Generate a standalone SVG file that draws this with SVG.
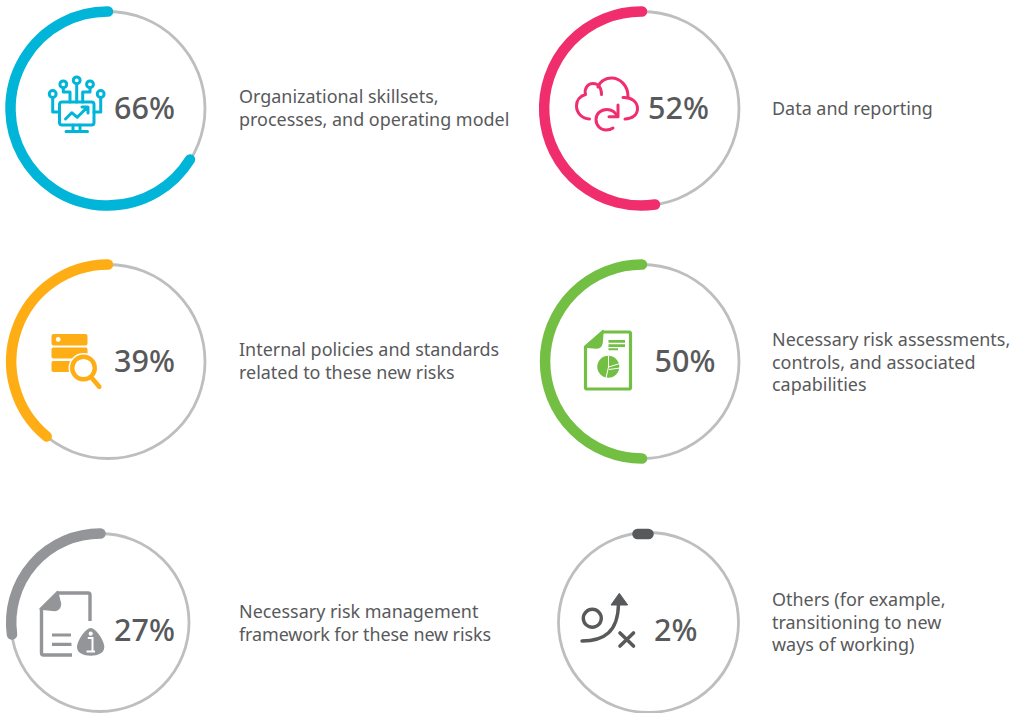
<svg xmlns="http://www.w3.org/2000/svg" width="1011" height="713" viewBox="0 0 1011 713">
<style>
.t{fill:none;stroke:#bcbec0;stroke-width:2.800}
.a{fill:none;stroke-width:10.500;stroke-linecap:round}
.p{font-family:"Noto Sans","Liberation Sans",sans-serif;font-size:30.500px;font-weight:500;fill:#58595b}
.l{font-family:"Noto Sans","Liberation Sans",sans-serif;font-size:17.950px;fill:#58595b}
.i{fill:none;stroke-width:3;stroke-linecap:round;stroke-linejoin:round}
</style>
<rect width="1011" height="713" fill="#fff"/>
<g id="skillsets">
<circle class="t" cx="108" cy="108.500" r="97"/>
<path class="a" stroke="#00b5d8" d="M108 11.500A97 97 0 1 0 190 159.500"/>
<g class="i" stroke="#00b5d8">
<rect x="59.500" y="102" width="34.500" height="23" rx="2.500"/>
<path d="M73 125V131M80 125V131M66 131.500H87.500"/>
<circle cx="52.700" cy="94" r="3.400"/><circle cx="63.300" cy="84.300" r="3.400"/><circle cx="76.700" cy="80.300" r="3.400"/><circle cx="90" cy="84.300" r="3.400"/><circle cx="100.700" cy="94" r="3.400"/>
<path d="M52.700 97.500V112H59M63.300 87.800V92H70V102M76.700 83.800V102M90 87.800V92H82.700V102M100.700 97.500V112H94"/>
<path d="M65.500 119L71.700 112.700L77.300 117.300L87 107.500M82 107H88V113"/>
</g>
<text class="p" x="114" y="118.700">66%</text>
<text class="l" x="239" y="103">Organizational skillsets,</text>
<text class="l" x="239" y="125.700">processes, and operating model</text>
</g>
<g id="data">
<circle class="t" cx="642" cy="108.500" r="97"/>
<path class="a" stroke="#f02d6d" d="M642 11.500A97 97 0 1 0 655 204.500"/>
<g class="i" stroke="#f02d6d">
<path d="M589.500 119C582 118.500 576.500 113 576.500 106C576.500 100.500 580 96 585.500 94.500C584 88 588 83.500 593 83.500C597.500 83.500 601.500 87 601.500 94.500"/>
<path d="M598 87C600 81 606 78 611.500 78C620 78 628 85.500 628 96.500"/>
<path d="M623 97.500C631.500 97 637.500 102 637.500 108.500C637.500 115 632 119 625 119"/>
<path d="M618 105V116.700H609"/>
<path d="M617.500 116.500C615 111.500 611 109.500 607 109.500C600.500 109.500 596 114 596 119.500C596 125.500 600.500 130 606 130C608.500 130 611 129.500 613 128"/>
</g>
<text class="p" x="648" y="118.700">52%</text>
<text class="l" x="772" y="114.500">Data and reporting</text>
</g>
<g id="policies">
<circle class="t" cx="108" cy="361.500" r="97"/>
<path class="a" stroke="#ffad14" d="M108 264.500A97 97 0 0 0 46.700 436.500"/>
<rect x="51.500" y="334" width="36" height="11.500" rx="2" fill="#ffad14"/>
<rect x="51.500" y="347.500" width="36" height="11" rx="2" fill="#ffad14"/>
<rect x="51.500" y="361" width="36" height="11" rx="2" fill="#ffad14"/>
<circle cx="58.200" cy="339.400" r="2.400" fill="#fff"/>
<circle cx="83.500" cy="368" r="15" fill="#fff"/>
<circle cx="83.500" cy="368" r="11.300" fill="#fff" stroke="#ffad14" stroke-width="4.400"/>
<path d="M91 377L99.300 386.700" stroke="#ffad14" stroke-width="4.600" stroke-linecap="round"/>
<text class="p" x="114" y="371.700">39%</text>
<text class="l" x="239" y="356">Internal policies and standards</text>
<text class="l" x="239" y="378.700">related to these new risks</text>
</g>
<g id="assessments">
<circle class="t" cx="642" cy="361.500" r="97"/>
<path class="a" stroke="#72bf44" d="M642 264.500A97 97 0 0 0 642 458.500"/>
<path d="M603 332H629Q630.500 332 630.500 333.500V387.500Q630.500 389 629 389H587Q585.500 389 585.500 387.500V347Z" fill="none" stroke="#72bf44" stroke-width="3.200" stroke-linejoin="round"/>
<path d="M584.500 347L603 330.500L602 343Q601 348 596 348Z" fill="#72bf44" stroke="#72bf44" stroke-width="1.500" stroke-linejoin="round"/>
<path d="M608.500 340H625V342.800H608.500ZM608.500 344.300H625V346.900H608.500ZM608.500 348.300H618V350.300H608.500Z" fill="#72bf44"/>
<circle cx="608.300" cy="366.700" r="11" fill="#72bf44"/>
<path d="M608.500 356V367L606 378M608.500 367L620 363.500M609 369.500L620 368" stroke="#fff" stroke-width="1" fill="none"/>
<text class="p" x="654.500" y="371.700">50%</text>
<text class="l" x="772" y="346">Necessary risk assessments,</text>
<text class="l" x="772" y="368.700">controls, and associated</text>
<text class="l" x="772" y="391">capabilities</text>
</g>
<g id="framework">
<circle class="t" cx="100" cy="622.500" r="89"/>
<path class="a" stroke="#939598" d="M100.500 533.500A89 89 0 0 0 12 634.500"/>
<path d="M90 621V595Q90 593 88 593H58L41.500 609V653Q41.500 655 43.500 655H72" fill="none" stroke="#939598" stroke-width="3.400" stroke-linejoin="round"/>
<path d="M40 609L57.500 591.500L60.500 604Q60 610 55 610.500Z" fill="#939598" stroke="#939598" stroke-width="1.500" stroke-linejoin="round"/>
<path d="M52 635H71M52 644.300H71.500" stroke="#939598" stroke-width="3.200"/>
<path d="M90.700 628C96 628 104.300 641 104.300 647C104.300 653 98 655.700 90.700 655.700C83.500 655.700 77 653 77 647C77 641 85.500 628 90.700 628Z" fill="#939598"/>
<circle cx="90.700" cy="633.700" r="2.100" fill="#fff"/>
<path d="M87.800 638H92.500V651.500H95M86.500 651.500H92.500" fill="none" stroke="#fff" stroke-width="2"/>
<text class="p" x="114" y="640.700">27%</text>
<text class="l" x="239" y="618">Necessary risk management</text>
<text class="l" x="239" y="641" textLength="252">framework for these new risks</text>
</g>
<g id="others">
<circle class="t" cx="648.500" cy="622.500" r="90"/>
<path class="a" stroke="#58595b" d="M637.500 534H648.500"/>
<circle cx="592.300" cy="618.300" r="9" fill="none" stroke="#58595b" stroke-width="3.400"/>
<path d="M582 641C604 641 618 632 618.500 604" fill="none" stroke="#58595b" stroke-width="3.400" stroke-linecap="round"/>
<path d="M611 605H627.700L619.300 593.300Z" fill="#58595b" stroke="#58595b" stroke-linejoin="round"/>
<path d="M620 633L633.500 646M633.500 633L620 646" fill="none" stroke="#58595b" stroke-width="3.600" stroke-linecap="round"/>
<text class="p" x="654" y="640.700">2%</text>
<text class="l" x="772" y="606">Others (for example,</text>
<text class="l" x="772" y="628.700">transitioning to new</text>
<text class="l" x="772" y="651">ways of working)</text>
</g>
</svg>
